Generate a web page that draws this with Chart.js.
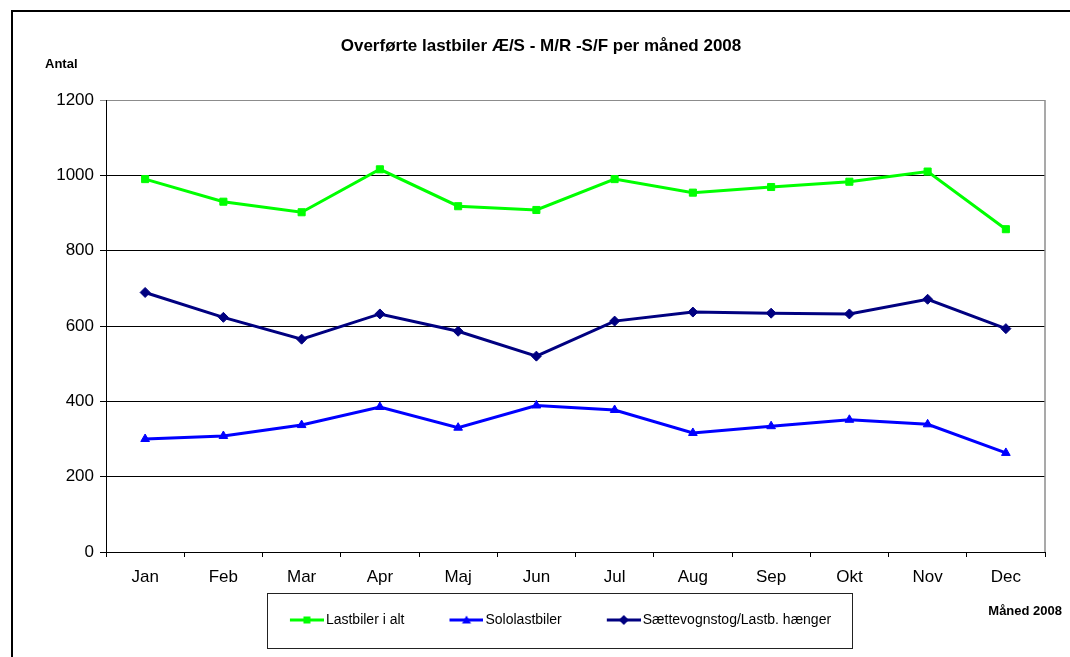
<!DOCTYPE html>
<html lang="da">
<head>
    <meta charset="UTF-8">
    <title>Overførte lastbiler per måned 2008</title>
    <script src="https://cdn.jsdelivr.net/npm/chart.js"></script>
    <style>
        html, body { margin: 0; padding: 0; background: #fff; overflow: hidden; }
        .wrap { position: relative; width: 1070px; height: 657px; overflow: hidden;
                font-family: 'Liberation Sans', Arial, sans-serif; color: #000; }
        .frame { position: absolute; left: 11px; top: 10px; width: 1200px; height: 800px;
                 border-left: 2px solid #000; border-top: 2px solid #000; }
        canvas { position: absolute; left: 0; top: 0; }
        .title { position: absolute; left: 0; width: 1082px; top: 37px; text-align: center;
                 font-size: 17px; line-height: 17px; font-weight: bold; }
        .ylabel { position: absolute; left: 45px; top: 57px; font-size: 13px; line-height: 13px; font-weight: bold; }
        .xlabel { position: absolute; right: 8px; top: 604px; font-size: 13px; line-height: 13px; font-weight: bold; }
    </style>
</head>
<body>
<div class="wrap">
    <div class="frame"></div>
    <canvas id="lastbilChart" width="1070" height="657"></canvas>
    <div class="title">Overførte lastbiler Æ/S - M/R -S/F per måned 2008</div>
    <div class="ylabel">Antal</div>
    <div class="xlabel">Måned 2008</div>
</div>

<script>
    // Data
    const months = ['Jan', 'Feb', 'Mar', 'Apr', 'Maj', 'Jun', 'Jul', 'Aug', 'Sep', 'Okt', 'Nov', 'Dec'];
    const lastbilerIAlt = [990, 930, 902, 1016, 918, 908, 990, 954, 969, 983, 1010, 857];
    const sololastbiler = [300, 308, 337, 385, 330, 389, 377, 316, 334, 351, 339, 263];
    const saettevognstog = [689, 623, 565, 632, 586, 520, 613, 637, 634, 632, 671, 593];
    const yTicks = [0, 200, 400, 600, 800, 1000, 1200];

    const FONT = "'Liberation Sans', Arial, sans-serif";
    Chart.defaults.font.family = FONT;
    Chart.defaults.color = '#000';

    // line+marker icons for the legend (Excel style); the blank left part
    // pushes the group a bit to the right like in the original
    const ICON_BOX = 60;
    function legendIcon(color, shape) {
        const c = document.createElement('canvas');
        c.width = ICON_BOX + 10; c.height = 12;
        const g = c.getContext('2d');
        g.strokeStyle = color;
        g.fillStyle = color;
        g.lineWidth = 3;
        g.beginPath(); g.moveTo(36, 6); g.lineTo(70, 6); g.stroke();
        const cx = 53;
        g.beginPath();
        if (shape === 'rect') {
            g.rect(cx - 3.5, 2.5, 7, 7);
        } else if (shape === 'triangle') {
            g.moveTo(cx, 1.5); g.lineTo(cx + 4.5, 9.5); g.lineTo(cx - 4.5, 9.5); g.closePath();
        } else {
            g.moveTo(cx, 1); g.lineTo(cx + 5, 6); g.lineTo(cx, 11); g.lineTo(cx - 5, 6); g.closePath();
        }
        g.fill();
        return c;
    }

    const series = [
        { label: 'Lastbiler i alt', data: lastbilerIAlt, color: '#00ff00', style: 'rect', radius: 5 },
        { label: 'Sololastbiler', data: sololastbiler, color: '#0000ff', style: 'triangle', radius: 5 },
        { label: 'Sættevognstog/Lastb. hænger', data: saettevognstog, color: '#000080', style: 'rectRot', radius: 5 }
    ];
    const icons = series.map(s => legendIcon(s.color, s.style));

    // frame around the legend
    const legendFrame = {
        id: 'legendFrame',
        afterDraw(chart) {
            const boxes = chart.legend && chart.legend.legendHitBoxes;
            if (!boxes || !boxes.length) return;
            const ctx = chart.ctx;
            const first = boxes[0], last = boxes[boxes.length - 1];
            const midY = first.top + first.height / 2;
            const x0 = Math.round(first.left + 8) + 0.5;
            const x1 = Math.round(last.left + last.width + 21) + 0.5;
            const y0 = Math.round(midY - 27) + 0.5;
            const y1 = Math.round(midY + 28) + 0.5;
            ctx.save();
            ctx.strokeStyle = '#222';
            ctx.lineWidth = 1;
            ctx.strokeRect(x0, y0, x1 - x0, y1 - y0);
            ctx.restore();
        }
    };

    // grey right edge of the plot area
    const plotEdge = {
        id: 'plotEdge',
        beforeDatasetsDraw(chart) {
            const a = chart.chartArea, ctx = chart.ctx;
            ctx.save();
            ctx.strokeStyle = '#8c8c8c';
            ctx.lineWidth = 1.5;
            ctx.beginPath();
            ctx.moveTo(a.right, a.top);
            ctx.lineTo(a.right, a.bottom);
            ctx.stroke();
            ctx.restore();
        }
    };

    const ctx = document.getElementById('lastbilChart').getContext('2d');
    const lastbilChart = new Chart(ctx, {
        type: 'line',
        data: {
            labels: months,
            datasets: series.map(s => ({
                label: s.label,
                data: s.data,
                borderColor: s.color,
                backgroundColor: s.color,
                borderWidth: 3,
                pointStyle: s.style,
                pointRadius: s.radius,
                pointBorderWidth: 1,
                pointBorderColor: s.color,
                pointBackgroundColor: s.color,
                fill: false,
                tension: 0
            }))
        },
        options: {
            responsive: false,
            animation: false,
            events: [],
            layout: { padding: { left: 45, right: 25, top: 100, bottom: 20 } },
            scales: {
                x: {
                    offset: true,
                    afterFit: (scale) => { scale.height = 47; },
                    grid: { display: true, offset: true, drawOnChartArea: false, drawTicks: true,
                            tickLength: 5, color: '#000', lineWidth: 1 },
                    border: { display: true, color: '#000', width: 1 },
                    ticks: { font: { size: 17 }, color: '#000', padding: 10, maxRotation: 0 }
                },
                y: {
                    min: 0,
                    max: 1200,
                    afterFit: (scale) => { scale.width = 61; },
                    afterBuildTicks: (scale) => { scale.ticks = yTicks.map(v => ({ value: v })); },
                    grid: {
                        color: (c) => (c.tick && c.tick.value === 1200) ? '#8c8c8c' : '#000',
                        lineWidth: 1,
                        tickLength: 6
                    },
                    border: { display: true, color: '#000', width: 1 },
                    ticks: { font: { size: 17 }, color: '#000', padding: 6, callback: (v) => String(v) }
                }
            },
            plugins: {
                title: { display: false },
                tooltip: { enabled: false },
                legend: {
                    position: 'bottom',
                    labels: {
                        usePointStyle: true,
                        pointStyleWidth: ICON_BOX,
                        padding: 14,
                        color: '#000',
                        font: { size: 14 },
                        generateLabels: (chart) => {
                            const items = Chart.defaults.plugins.legend.labels.generateLabels(chart);
                            items.forEach((it, i) => { it.pointStyle = icons[i]; });
                            return items;
                        }
                    }
                }
            }
        },
        plugins: [legendFrame, plotEdge]
    });
</script>
</body>
</html>
